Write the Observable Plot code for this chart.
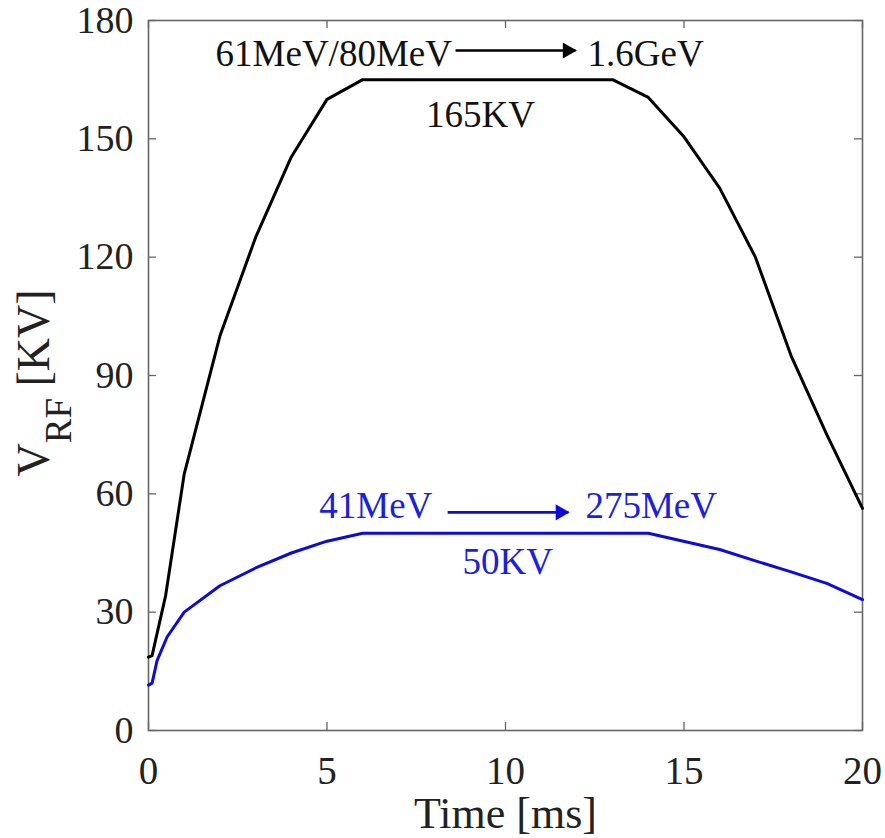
<!DOCTYPE html>
<html><head><meta charset="utf-8">
<script src="https://cdn.jsdelivr.net/npm/d3@7"></script>
<script src="https://cdn.jsdelivr.net/npm/@observablehq/plot@0.6"></script>
<style>body{margin:0;background:#fff;} svg{display:block;}</style>
</head><body><div id="chart"></div>
<script>
// ---- data ----
const blackTime = [0, 0.1, 0.48, 1, 2, 3, 4, 5, 6, 13, 14, 15, 16, 17, 18, 19, 20];
const blackVrf  = [18.6, 19, 34.2, 65, 100, 125, 145.4, 160, 165, 165, 160.5, 150.5, 137.5, 120, 95, 75, 56.3];
const blueTime  = [0, 0.1, 0.24, 0.52, 1, 2, 3, 4, 5, 6, 14, 16, 17, 18, 19, 20];
const blueVrf   = [11.5, 12, 17.7, 23.7, 30, 36.7, 41.2, 45, 48, 50, 50, 45.9, 43, 40.2, 37.3, 33.2];
const xTicks = [0, 5, 10, 15, 20];
const yTicks = [0, 30, 60, 90, 120, 150, 180];
const xLabel = "Time [ms]";
const yLabelMain = "V", yLabelSub = "RF", yLabelUnit = " [KV]";
// annotations
const noteText   = ["61MeV/80MeV", "1.6GeV", "165KV", "41MeV", "275MeV", "50KV"];
const noteTime   = [8.5, 12.3, 9.3, 7.95, 12.24, 10.06];
const noteVrf    = [171.4, 171.4, 155.9, 56.8, 56.8, 42.8];
const noteAnchor = ["end", "start", "middle", "end", "start", "middle"];
const noteSeries = ["black", "black", "black", "blue", "blue", "blue"];
const arrowT1 = [8.6, 8.38], arrowT2 = [11.96, 11.76], arrowV = [172.4, 55.3], arrowSeries = ["black", "blue"];

// ---- styling ----
const W = 885, H = 838, mL = 148, mR = 23, mT = 20, mB = 108;
const innerW = W - mL - mR, innerH = H - mT - mB, TL = 8;
const serif = "Liberation Serif";
const colors = {black: "#000000", blue: "#0c0cd6"};
const textColors = {black: "#111111", blue: "#1a22d4"};

const black = blackTime.map((t, i) => ({t, v: blackVrf[i]}));
const blue = blueTime.map((t, i) => ({t, v: blueVrf[i]}));
const notes = noteText.map((s, i) => ({s, t: noteTime[i], v: noteVrf[i], a: noteAnchor[i], c: noteSeries[i]}));
const arrows = arrowT1.map((t1, i) => ({t1, t2: arrowT2[i], v: arrowV[i], c: arrowSeries[i]}));

const textMarks = ["start", "middle", "end"].map(a =>
  Plot.text(notes.filter(d => d.a === a), {x: "t", y: "v", text: "s", textAnchor: a,
    fill: d => textColors[d.c], fontSize: 37, fontFamily: serif, lineAnchor: "middle"}));

const chart = Plot.plot({
  width: W, height: H, marginLeft: mL, marginRight: mR, marginTop: mT, marginBottom: mB,
  x: {domain: [0, 20]}, y: {domain: [0, 180]},
  style: {fontFamily: serif, background: "#fff", color: "#222"},
  marks: [
    Plot.tickX(xTicks, {x: d => d, insetTop: innerH - TL, stroke: "#666", strokeWidth: 1.3}),
    Plot.tickX(xTicks, {x: d => d, insetBottom: innerH - TL, stroke: "#666", strokeWidth: 1.3}),
    Plot.tickY(yTicks, {y: d => d, insetRight: innerW - TL, stroke: "#666", strokeWidth: 1.3}),
    Plot.tickY(yTicks, {y: d => d, insetLeft: innerW - TL, stroke: "#666", strokeWidth: 1.3}),
    Plot.frame({stroke: "#666", strokeWidth: 1.6}),
    Plot.axisX({ticks: xTicks, tickSize: 0, tickPadding: 26, fontSize: 39, fontFamily: serif, label: null}),
    Plot.axisY({ticks: yTicks, tickSize: 0, tickPadding: 15, fontSize: 38, fontFamily: serif, label: null}),
    Plot.line(black, {x: "t", y: "v", stroke: colors.black, strokeWidth: 3}),
    Plot.line(blue, {x: "t", y: "v", stroke: colors.blue, strokeWidth: 3}),
    Plot.link(arrows, {x1: "t1", x2: "t2", y1: "v", y2: "v", stroke: d => colors[d.c], strokeWidth: 2.6}),
    Plot.dot(arrows, {x: "t2", y: "v", symbol: "triangle", rotate: 90, r: 6, dx: -8,
      fill: d => colors[d.c], stroke: "none"}),
    ...textMarks,
    Plot.text([xLabel], {frameAnchor: "bottom", dy: 97, lineAnchor: "bottom", fontSize: 44, fontFamily: serif, fill: "#222"})
  ]
});

// y-axis title with subscript
const svg = d3.select(chart);
svg.attr("font-family", serif);
const yt = svg.append("text")
  .attr("transform", `translate(49,${mT + innerH / 2 + 8}) rotate(-90)`)
  .attr("text-anchor", "middle")
  .attr("font-family", serif)
  .attr("font-size", 46)
  .attr("fill", "#222");
yt.append("tspan").text(yLabelMain);
yt.append("tspan").attr("font-size", 37).attr("dy", 22).text(yLabelSub);
yt.append("tspan").attr("dy", -22).text(yLabelUnit);

document.getElementById("chart").append(chart);
</script>
</body></html>
